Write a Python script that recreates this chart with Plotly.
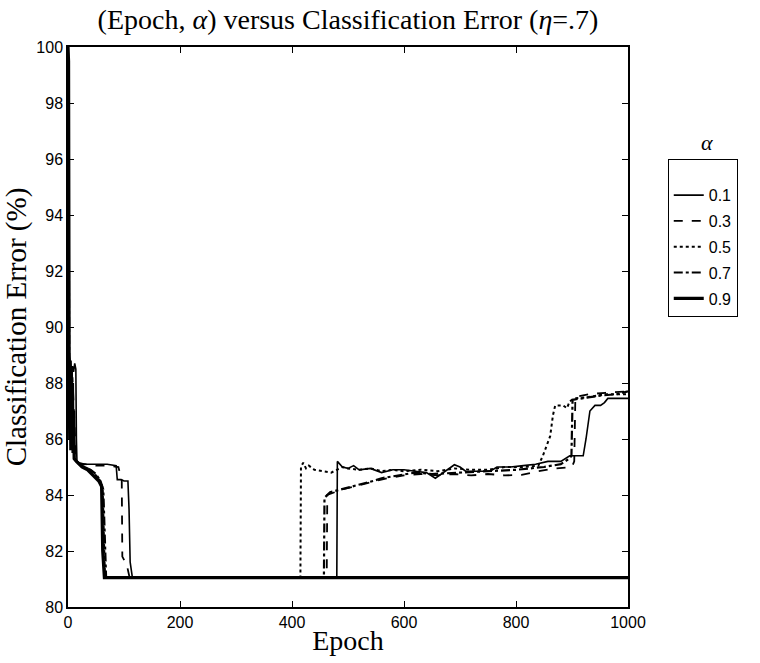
import plotly.graph_objects as go

# ---- data (epoch, classification error %) ----
labels = ["0.1", "0.3", "0.5", "0.7", "0.9"]

ep_01 = [0, 1, 2, 4, 6, 8, 10, 12, 14, 15, 16, 20, 30, 50, 70, 86, 88, 95, 100, 107, 109, 111, 113, 115,
         480, 481, 490, 500, 510, 520, 540, 560, 580, 600, 620, 640, 656, 670, 690, 700, 710, 730, 754,
         766, 790, 813, 835, 857, 880, 896, 920, 925, 932, 941, 951, 958, 964, 1000]
err_01 = [100, 99, 89, 88.8, 88.5, 88.6, 88.4, 88.7, 88.5, 86.0, 85.2, 85.15, 85.1, 85.1, 85.1, 85.05, 84.55, 84.55, 84.5, 84.5, 83.5, 81.6, 81.2, 81.05,
          81.05, 85.2, 85.0, 84.95, 85.05, 84.9, 84.95, 84.8, 84.9, 84.9, 84.85, 84.8, 84.6, 84.8, 85.08, 85.0, 84.85, 84.85, 84.85,
          85.0, 85.0, 85.05, 85.1, 85.2, 85.2, 85.4, 85.4, 86.0, 87.0, 87.2, 87.2, 87.3, 87.45, 87.45]

ep_03 = [0, 1, 2, 4, 6, 8, 10, 12, 14, 20, 30, 50, 70, 90, 95, 96, 97, 105, 110, 462, 463, 475, 490, 510, 530,
         550, 570, 600, 630, 660, 690, 720, 750, 780, 810, 840, 870, 900, 904, 906, 930, 960, 1000]
err_03 = [100, 98.5, 88.9, 88.4, 87.6, 88.2, 87.0, 86.2, 85.4, 85.1, 85.1, 85.05, 85.05, 85.0, 84.5, 84.5, 81.8, 81.5, 81.05, 81.05, 84.0, 84.1, 84.2, 84.3, 84.4,
          84.5, 84.6, 84.7, 84.75, 84.7, 84.75, 84.7, 84.75, 84.7, 84.72, 84.85, 84.95, 85.0, 85.2, 87.5, 87.6, 87.65, 87.7]

ep_05 = [0, 1, 2, 4, 6, 8, 10, 12, 20, 30, 40, 50, 58, 62, 64, 66, 130, 415, 416, 420, 425, 430, 440, 455, 470, 480, 490,
         500, 520, 540, 560, 580, 600, 630, 660, 690, 720, 750, 780, 810, 840, 848, 861, 866, 870, 884, 891, 896, 905, 930, 960, 1000]
err_05 = [100, 98, 88.6, 87.9, 87.2, 86.5, 85.8, 85.3, 85.1, 85.0, 84.9, 84.7, 84.5, 84.2, 82.5, 81.05, 81.05, 81.05, 85.0, 85.15, 84.95, 85.05, 84.9, 84.85, 84.8, 84.9, 85.0,
          84.95, 84.9, 84.95, 84.85, 84.9, 84.85, 84.9, 84.85, 84.95, 84.9, 84.9, 85.0, 85.0, 85.05, 85.4, 86.1, 86.85, 87.2, 87.2, 87.1, 87.35, 87.45, 87.5, 87.6, 87.6]

ep_07 = [0, 1, 2, 4, 6, 8, 10, 12, 20, 30, 40, 50, 58, 63, 66, 68, 457, 458, 468, 478, 500, 520, 545, 560,
         590, 620, 650, 700, 750, 800, 850, 880, 895, 899, 901, 920, 950, 980, 1000]
err_07 = [100, 97.5, 89.0, 88.0, 86.8, 87.5, 86.0, 85.3, 85.1, 85.0, 84.9, 84.75, 84.5, 84.2, 82.0, 81.05, 81.05, 83.9, 84.1, 84.15, 84.25, 84.35, 84.5, 84.6,
          84.7, 84.8, 84.75, 84.8, 84.85, 84.9, 85.0, 85.1, 85.3, 85.4, 87.4, 87.45, 87.55, 87.6, 87.7]

ep_09 = [0, 1, 2, 3, 4, 5, 6, 7, 8, 9, 10, 11, 15, 20, 25, 35, 45, 55, 60, 62, 65, 1000]
err_09 = [100, 99.5, 89.2, 86.0, 88.8, 85.6, 88.5, 86.2, 88.0, 85.5, 87.0, 85.3, 85.2, 85.1, 85.0, 84.9, 84.7, 84.5, 84.3, 82.0, 81.05, 81.05]

series = [(ep_01, err_01), (ep_03, err_03), (ep_05, err_05), (ep_07, err_07), (ep_09, err_09)]
styles = [("solid", 1.6), ("dash", 1.8), ("dot", 2.0), ("dashdot", 2.2), ("solid", 3.2)]

fig = go.Figure()
for (x, y), lab, (dash, w) in zip(series, labels, styles):
    fig.add_trace(go.Scatter(x=x, y=y, mode="lines", name=lab, legendgroup=lab,
                             line=dict(color="black", width=w, dash=dash)))

axis_common = dict(showline=True, linecolor="black", linewidth=1.5, mirror="ticks",
                   ticks="inside", ticklen=6, tickcolor="black", showgrid=False, zeroline=False,
                   tickfont=dict(family="Liberation Sans", size=16, color="black"))

fig.update_layout(
    width=760, height=663,
    margin=dict(l=68, r=132, t=47, b=53),
    paper_bgcolor="white", plot_bgcolor="white",
    title=dict(text="(Epoch, <i>α</i>) versus Classification Error (<i>η</i>=.7)",
               x=(68 + 628) / 2 / 760, xanchor="center", y=1 - 19 / 663, yanchor="middle",
               font=dict(family="Liberation Serif", size=28, color="black")),
    xaxis=dict(range=[0, 1000], tickvals=[0, 200, 400, 600, 800, 1000],
               title=dict(text="Epoch", standoff=0,
                          font=dict(family="Liberation Serif", size=28, color="black")),
               **axis_common),
    yaxis=dict(range=[80, 100], dtick=2,
               title=dict(text="Classification Error (%)", standoff=2,
                          font=dict(family="Liberation Serif", size=29, color="black")),
               **axis_common),
    legend=dict(x=1.071, xanchor="left", y=0.8, yanchor="top",
                bordercolor="black", borderwidth=1, bgcolor="white",
                tracegroupgap=2,
                title=dict(text="&nbsp;", font=dict(size=14)),
                font=dict(family="Liberation Sans", size=16, color="black")),
    annotations=[dict(text="<i>α</i>", xref="paper", yref="paper",
                      x=(707 - 68) / 560, y=(610 - 143) / 563, showarrow=False,
                      xanchor="center", yanchor="middle",
                      font=dict(family="Liberation Serif", size=22, color="black"))],
)

fig.write_html("out.html")
